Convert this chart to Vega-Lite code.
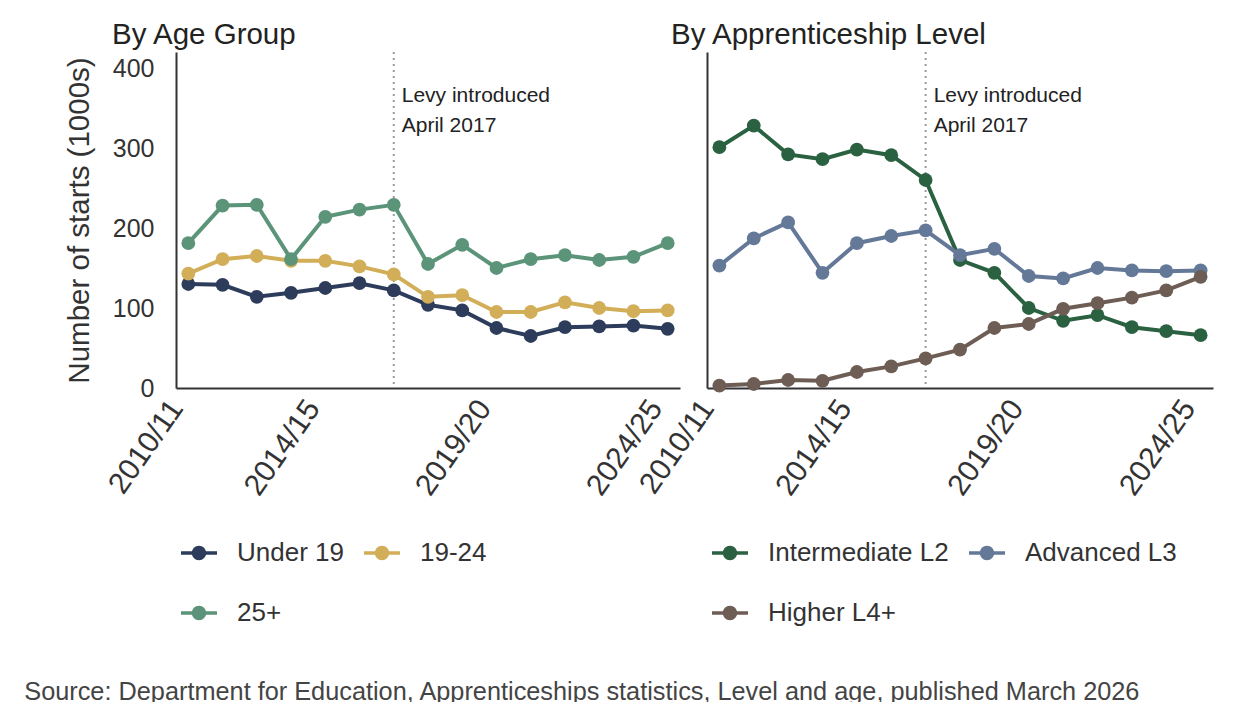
{
  "$schema": "https://vega.github.io/schema/vega-lite/v6.json",
  "background": "white",
  "padding": {"left": 24, "top": 19, "right": 5, "bottom": 0},
  "bounds": "flush",
  "spacing": 27,
  "title": {
    "text": "Source: Department for Education, Apprenticeships statistics, Level and age, published March 2026",
    "orient": "bottom", "anchor": "start", "frame": "bounds",
    "fontSize": 25.3, "fontWeight": "normal", "color": "#444", "font": "Liberation Sans",
    "offset": 49, "dx": -40
  },
  "config": {
    "font": "Liberation Sans",
    "view": {"stroke": null},
    "axis": {
      "labelColor": "#333", "labelFontSize": 25, "titleFontSize": 29.5, "titleFontWeight": "normal",
      "titleColor": "#333", "domainColor": "#333", "domainWidth": 2, "ticks": false,
      "gridColor": "#E6E6E6", "gridDash": [9, 9], "gridWidth": 2
    },
    "legend": {
      "labelFontSize": 26, "labelColor": "#333", "labelFont": "Liberation Sans", "labelLimit": 0
    }
  },
  "datasets": {
    "age": [
      {"year": "2010/11", "group": "Under 19", "value": 130},
      {"year": "2011/12", "group": "Under 19", "value": 129},
      {"year": "2012/13", "group": "Under 19", "value": 114},
      {"year": "2013/14", "group": "Under 19", "value": 119},
      {"year": "2014/15", "group": "Under 19", "value": 125},
      {"year": "2015/16", "group": "Under 19", "value": 131},
      {"year": "2016/17", "group": "Under 19", "value": 122},
      {"year": "2017/18", "group": "Under 19", "value": 104},
      {"year": "2018/19", "group": "Under 19", "value": 97},
      {"year": "2019/20", "group": "Under 19", "value": 75},
      {"year": "2020/21", "group": "Under 19", "value": 65},
      {"year": "2021/22", "group": "Under 19", "value": 76},
      {"year": "2022/23", "group": "Under 19", "value": 77},
      {"year": "2023/24", "group": "Under 19", "value": 78},
      {"year": "2024/25", "group": "Under 19", "value": 74},
      {"year": "2010/11", "group": "19-24", "value": 143},
      {"year": "2011/12", "group": "19-24", "value": 161},
      {"year": "2012/13", "group": "19-24", "value": 165},
      {"year": "2013/14", "group": "19-24", "value": 159},
      {"year": "2014/15", "group": "19-24", "value": 159},
      {"year": "2015/16", "group": "19-24", "value": 152},
      {"year": "2016/17", "group": "19-24", "value": 142},
      {"year": "2017/18", "group": "19-24", "value": 114},
      {"year": "2018/19", "group": "19-24", "value": 116},
      {"year": "2019/20", "group": "19-24", "value": 95},
      {"year": "2020/21", "group": "19-24", "value": 95},
      {"year": "2021/22", "group": "19-24", "value": 107},
      {"year": "2022/23", "group": "19-24", "value": 100},
      {"year": "2023/24", "group": "19-24", "value": 96},
      {"year": "2024/25", "group": "19-24", "value": 97},
      {"year": "2010/11", "group": "25+", "value": 181},
      {"year": "2011/12", "group": "25+", "value": 228},
      {"year": "2012/13", "group": "25+", "value": 229},
      {"year": "2013/14", "group": "25+", "value": 161},
      {"year": "2014/15", "group": "25+", "value": 214},
      {"year": "2015/16", "group": "25+", "value": 223},
      {"year": "2016/17", "group": "25+", "value": 229},
      {"year": "2017/18", "group": "25+", "value": 155},
      {"year": "2018/19", "group": "25+", "value": 179},
      {"year": "2019/20", "group": "25+", "value": 150},
      {"year": "2020/21", "group": "25+", "value": 161},
      {"year": "2021/22", "group": "25+", "value": 166},
      {"year": "2022/23", "group": "25+", "value": 160},
      {"year": "2023/24", "group": "25+", "value": 164},
      {"year": "2024/25", "group": "25+", "value": 181}
    ],
    "level": [
      {"year": "2010/11", "group": "Intermediate L2", "value": 301},
      {"year": "2011/12", "group": "Intermediate L2", "value": 328},
      {"year": "2012/13", "group": "Intermediate L2", "value": 292},
      {"year": "2013/14", "group": "Intermediate L2", "value": 286},
      {"year": "2014/15", "group": "Intermediate L2", "value": 298},
      {"year": "2015/16", "group": "Intermediate L2", "value": 291},
      {"year": "2016/17", "group": "Intermediate L2", "value": 260},
      {"year": "2017/18", "group": "Intermediate L2", "value": 160},
      {"year": "2018/19", "group": "Intermediate L2", "value": 144},
      {"year": "2019/20", "group": "Intermediate L2", "value": 100},
      {"year": "2020/21", "group": "Intermediate L2", "value": 84},
      {"year": "2021/22", "group": "Intermediate L2", "value": 91},
      {"year": "2022/23", "group": "Intermediate L2", "value": 76},
      {"year": "2023/24", "group": "Intermediate L2", "value": 71},
      {"year": "2024/25", "group": "Intermediate L2", "value": 66},
      {"year": "2010/11", "group": "Advanced L3", "value": 153},
      {"year": "2011/12", "group": "Advanced L3", "value": 187},
      {"year": "2012/13", "group": "Advanced L3", "value": 207},
      {"year": "2013/14", "group": "Advanced L3", "value": 144},
      {"year": "2014/15", "group": "Advanced L3", "value": 181},
      {"year": "2015/16", "group": "Advanced L3", "value": 190},
      {"year": "2016/17", "group": "Advanced L3", "value": 197},
      {"year": "2017/18", "group": "Advanced L3", "value": 166},
      {"year": "2018/19", "group": "Advanced L3", "value": 174},
      {"year": "2019/20", "group": "Advanced L3", "value": 140},
      {"year": "2020/21", "group": "Advanced L3", "value": 137},
      {"year": "2021/22", "group": "Advanced L3", "value": 150},
      {"year": "2022/23", "group": "Advanced L3", "value": 147},
      {"year": "2023/24", "group": "Advanced L3", "value": 146},
      {"year": "2024/25", "group": "Advanced L3", "value": 147},
      {"year": "2010/11", "group": "Higher L4+", "value": 3},
      {"year": "2011/12", "group": "Higher L4+", "value": 5},
      {"year": "2012/13", "group": "Higher L4+", "value": 10},
      {"year": "2013/14", "group": "Higher L4+", "value": 9},
      {"year": "2014/15", "group": "Higher L4+", "value": 20},
      {"year": "2015/16", "group": "Higher L4+", "value": 27},
      {"year": "2016/17", "group": "Higher L4+", "value": 37},
      {"year": "2017/18", "group": "Higher L4+", "value": 48},
      {"year": "2018/19", "group": "Higher L4+", "value": 75},
      {"year": "2019/20", "group": "Higher L4+", "value": 80},
      {"year": "2020/21", "group": "Higher L4+", "value": 99},
      {"year": "2021/22", "group": "Higher L4+", "value": 106},
      {"year": "2022/23", "group": "Higher L4+", "value": 113},
      {"year": "2023/24", "group": "Higher L4+", "value": 122},
      {"year": "2024/25", "group": "Higher L4+", "value": 139}
    ]
  },
  "hconcat": [
    {
      "width": 504, "height": 336,
      "title": {"text": "By Age Group", "anchor": "start", "frame": "group", "dx": -64, "fontSize": 29.5, "fontWeight": "normal", "color": "#222", "offset": 1},
      "layer": [
        {
          "data": {"values": [{}]},
          "mark": {"type": "rule", "color": "#9a9a9a", "strokeDash": [2, 4], "strokeWidth": 2},
          "encoding": {"x": {"datum": "2016/17", "type": "ordinal", "title": null}}
        },
        {
          "data": {"values": [{}]},
          "mark": {"type": "text", "text": ["Levy introduced", "April 2017"], "align": "left", "baseline": "top", "dx": 8, "fontSize": 21, "lineHeight": 30, "color": "#222"},
          "encoding": {
            "x": {"datum": "2016/17", "type": "ordinal", "title": null},
            "y": {"datum": 379, "type": "quantitative", "title": "Number of starts (1000s)"}
          }
        },
        {
          "data": {"name": "age"},
          "mark": {"type": "line", "strokeWidth": 4},
          "encoding": {
            "x": {"field": "year", "type": "ordinal", "scale": {"type": "point", "padding": 0.36},
                  "axis": {"values": ["2010/11", "2014/15", "2019/20", "2024/25"], "labelAngle": -55, "labelFontSize": 30, "title": null, "labelPadding": 15, "labelOffset": -12}},
            "y": {"field": "value", "type": "quantitative", "scale": {"domain": [0, 420], "nice": false},
                  "axis": {"values": [0, 100, 200, 300, 400], "title": "Number of starts (1000s)", "labelPadding": 22, "titlePadding": 18}},
            "color": {"field": "group", "type": "nominal",
                      "scale": {"domain": ["Under 19", "19-24", "25+"], "range": ["#2C3C5A", "#D2AE58", "#5B9479"]}}
          }
        },
        {
          "data": {"name": "age"},
          "mark": {"type": "circle", "size": 190, "opacity": 1},
          "encoding": {
            "x": {"field": "year", "type": "ordinal"},
            "y": {"field": "value", "type": "quantitative"},
            "color": {"field": "group", "type": "nominal",
                      "scale": {"domain": ["Under 19", "19-24", "25+"], "range": ["#2C3C5A", "#D2AE58", "#5B9479"]},
                      "legend": {"orient": "bottom", "offset": 29, "padding": 5, "direction": "horizontal", "columns": 2, "title": null,
                                 "symbolType": "M-1,-0.1 L1,-0.1 L1,0.1 L-1,0.1 Z M-0.4,0 A0.4,0.4 0 1,1 0.4,0 A0.4,0.4 0 1,1 -0.4,0 Z",
                                 "symbolSize": 1296, "symbolStrokeWidth": 0, "symbolOpacity": 1,
                                 "rowPadding": 29, "columnPadding": 20, "labelOffset": 20}}
          }
        }
      ]
    },
    {
      "width": 506, "height": 336,
      "title": {"text": "By Apprenticeship Level", "anchor": "start", "frame": "group", "dx": -36, "fontSize": 29.5, "fontWeight": "normal", "color": "#222", "offset": 1},
      "layer": [
        {
          "data": {"values": [{}]},
          "mark": {"type": "rule", "color": "#9a9a9a", "strokeDash": [2, 4], "strokeWidth": 2},
          "encoding": {"x": {"datum": "2016/17", "type": "ordinal", "title": null}}
        },
        {
          "data": {"values": [{}]},
          "mark": {"type": "text", "text": ["Levy introduced", "April 2017"], "align": "left", "baseline": "top", "dx": 8, "fontSize": 21, "lineHeight": 30, "color": "#222"},
          "encoding": {
            "x": {"datum": "2016/17", "type": "ordinal", "title": null},
            "y": {"datum": 379, "type": "quantitative", "title": null}
          }
        },
        {
          "data": {"name": "level"},
          "mark": {"type": "line", "strokeWidth": 4},
          "encoding": {
            "x": {"field": "year", "type": "ordinal", "scale": {"type": "point", "padding": 0.36},
                  "axis": {"values": ["2010/11", "2014/15", "2019/20", "2024/25"], "labelAngle": -55, "labelFontSize": 30, "title": null, "labelPadding": 15, "labelOffset": -12}},
            "y": {"field": "value", "type": "quantitative", "scale": {"domain": [0, 420], "nice": false},
                  "axis": {"values": [0, 100, 200, 300, 400], "title": null, "labels": false}},
            "color": {"field": "group", "type": "nominal",
                      "scale": {"domain": ["Intermediate L2", "Advanced L3", "Higher L4+"], "range": ["#2A6141", "#647898", "#6D5D54"]}}
          }
        },
        {
          "data": {"name": "level"},
          "mark": {"type": "circle", "size": 190, "opacity": 1},
          "encoding": {
            "x": {"field": "year", "type": "ordinal"},
            "y": {"field": "value", "type": "quantitative"},
            "color": {"field": "group", "type": "nominal",
                      "scale": {"domain": ["Intermediate L2", "Advanced L3", "Higher L4+"], "range": ["#2A6141", "#647898", "#6D5D54"]},
                      "legend": {"orient": "bottom", "offset": 29, "padding": 5, "direction": "horizontal", "columns": 2, "title": null,
                                 "symbolType": "M-1,-0.1 L1,-0.1 L1,0.1 L-1,0.1 Z M-0.4,0 A0.4,0.4 0 1,1 0.4,0 A0.4,0.4 0 1,1 -0.4,0 Z",
                                 "symbolSize": 1296, "symbolStrokeWidth": 0, "symbolOpacity": 1,
                                 "rowPadding": 29, "columnPadding": 20, "labelOffset": 20}}
          }
        }
      ]
    }
  ],
  "resolve": {"scale": {"color": "independent", "y": "independent", "x": "independent"}, "legend": {"color": "independent"}}
}
